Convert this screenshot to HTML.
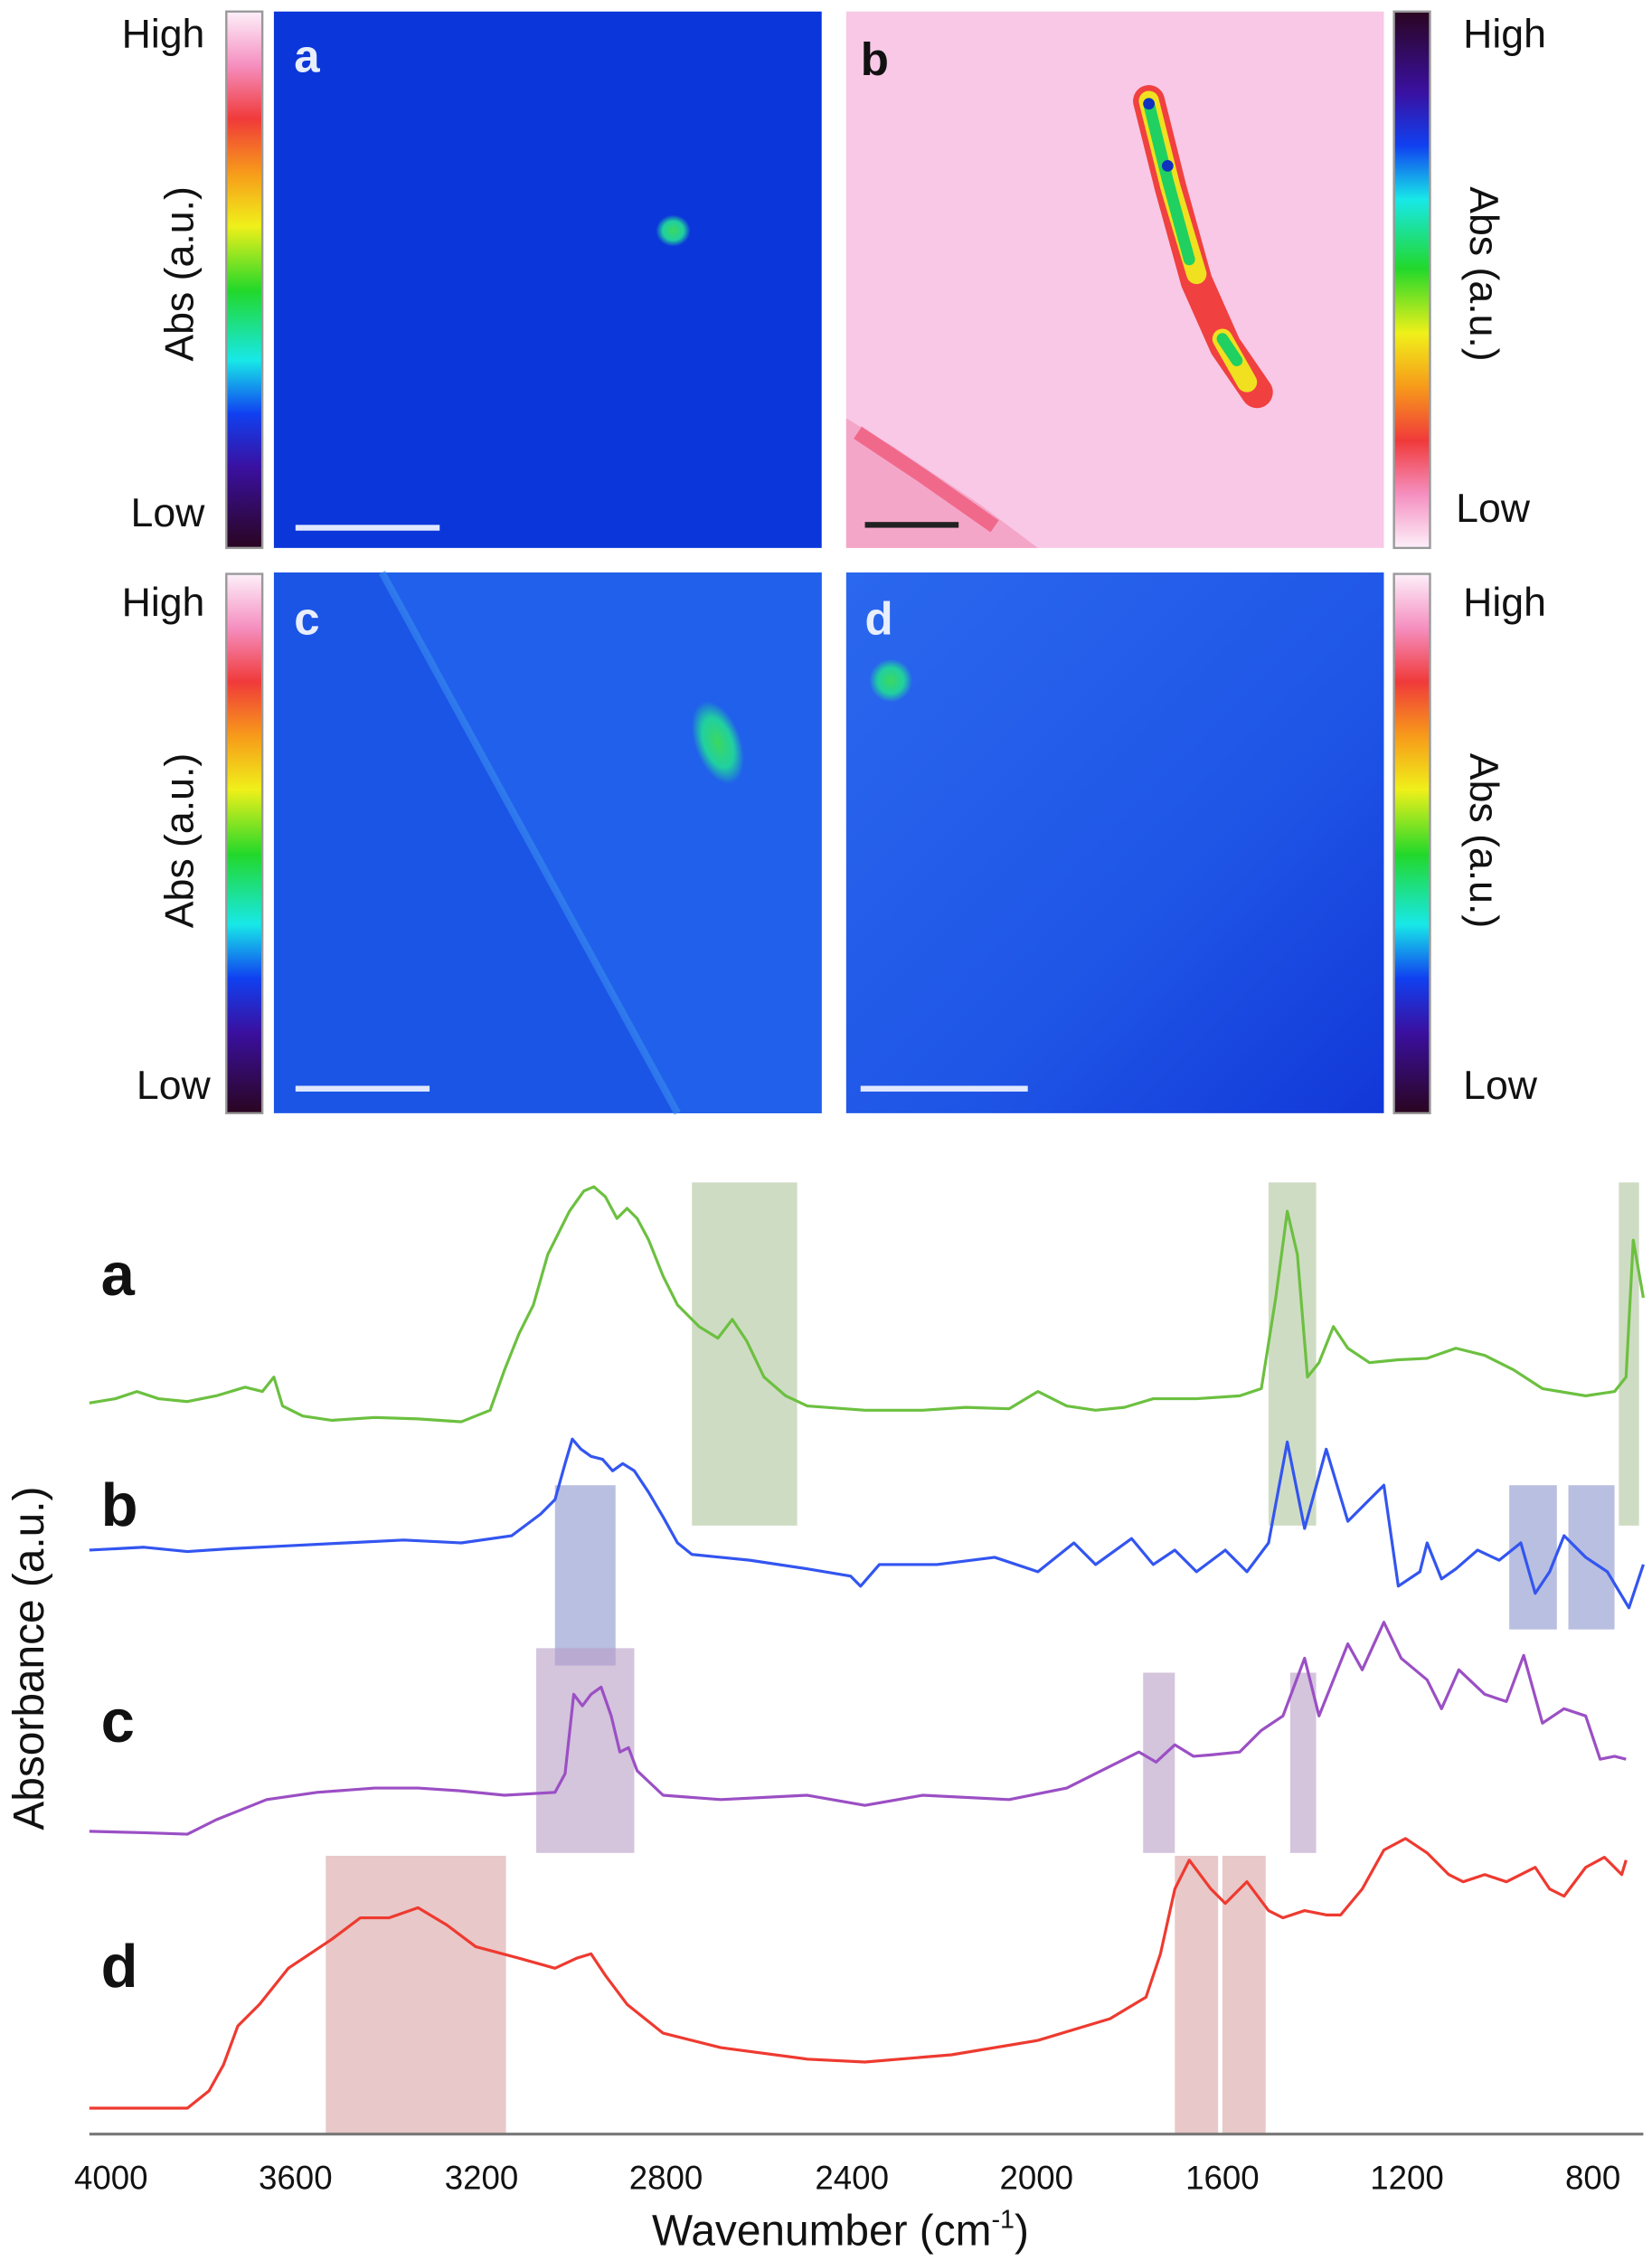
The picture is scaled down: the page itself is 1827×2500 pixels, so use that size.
<!DOCTYPE html>
<html><head><meta charset="utf-8"><style>html,body{margin:0;padding:0;background:#fff}svg{display:block}</style></head><body>
<svg width="1827" height="2500" viewBox="0 0 1146 1568" preserveAspectRatio="none" xmlns="http://www.w3.org/2000/svg" font-family="Liberation Sans, sans-serif">
<defs>
<linearGradient id="cbL" x1="0" y1="0" x2="0" y2="1">
<stop offset="0" stop-color="#fdf0fa"/><stop offset="0.1" stop-color="#f58fc0"/><stop offset="0.2" stop-color="#f03a3a"/><stop offset="0.3" stop-color="#f79a1a"/><stop offset="0.4" stop-color="#f0f01a"/><stop offset="0.52" stop-color="#22d82a"/><stop offset="0.65" stop-color="#18e8e8"/><stop offset="0.75" stop-color="#1040f0"/><stop offset="0.85" stop-color="#3a10a0"/><stop offset="1" stop-color="#2a0520"/></linearGradient>
<linearGradient id="cbR" x1="0" y1="1" x2="0" y2="0">
<stop offset="0" stop-color="#fdf0fa"/><stop offset="0.1" stop-color="#f58fc0"/><stop offset="0.2" stop-color="#f03a3a"/><stop offset="0.3" stop-color="#f79a1a"/><stop offset="0.4" stop-color="#f0f01a"/><stop offset="0.52" stop-color="#22d82a"/><stop offset="0.65" stop-color="#18e8e8"/><stop offset="0.75" stop-color="#1040f0"/><stop offset="0.85" stop-color="#3a10a0"/><stop offset="1" stop-color="#2a0520"/></linearGradient>
<radialGradient id="blob"><stop offset="0" stop-color="#3bd860"/><stop offset="0.6" stop-color="#20d0a0"/><stop offset="1" stop-color="#20d0a0" stop-opacity="0"/></radialGradient>
<linearGradient id="dgr" x1="0" y1="0" x2="1" y2="1"><stop offset="0" stop-color="#2a68ee"/><stop offset="0.6" stop-color="#1f55e6"/><stop offset="1" stop-color="#1238d8"/></linearGradient>
</defs>
<!-- images -->
<rect x="190" y="8" width="380" height="372" fill="#0b36d9"/>
<ellipse cx="467" cy="160" rx="12" ry="11" fill="url(#blob)"/>
<rect x="205" y="364" width="100" height="4" fill="#e0e8ff"/>
<rect x="587" y="8" width="373" height="372" fill="#f8c8e6"/>
<polygon points="587,290 620,310 680,350 720,380 587,380" fill="#f4a6c8"/>
<path d="M595,300 L640,330 L690,365" stroke="#ee5070" stroke-width="10" fill="none" opacity="0.7"/>
<path d="M797,70 L812,130 L830,195 L850,240 L872,272" stroke="#f04040" stroke-width="22" stroke-linecap="round" fill="none"/>
<path d="M797,70 L812,130 L830,190 M848,235 L865,265" stroke="#f0e020" stroke-width="14" stroke-linecap="round" fill="none"/>
<path d="M797,72 L810,125 L825,180 M848,235 L858,250" stroke="#20d060" stroke-width="8" stroke-linecap="round" fill="none"/>
<circle cx="797" cy="72" r="4" fill="#1030c0"/><circle cx="810" cy="115" r="4" fill="#1030c0"/>
<rect x="600" y="362" width="65" height="4" fill="#222"/>
<rect x="190" y="397" width="380" height="375" fill="#1b55e6"/>
<polygon points="265,397 570,397 570,772 470,772" fill="#2060ea"/>
<path d="M265,397 L470,772" stroke="#3a8cf0" stroke-width="5" opacity="0.6"/>
<ellipse cx="498" cy="515" rx="16" ry="30" fill="url(#blob)" transform="rotate(-20 498 515)"/>
<rect x="205" y="753" width="93" height="4" fill="#e0e8ff"/>
<rect x="587" y="397" width="373" height="375" fill="url(#dgr)"/>
<ellipse cx="618" cy="472" rx="15" ry="15" fill="url(#blob)"/>
<rect x="597" y="753" width="116" height="4" fill="#e0e8ff"/>
<!-- colorbars -->
<rect x="157" y="8" width="25" height="372" fill="url(#cbL)" stroke="#999" stroke-width="1.5"/>
<rect x="967" y="8" width="25" height="372" fill="url(#cbR)" stroke="#999" stroke-width="1.5"/>
<rect x="157" y="398" width="25" height="374" fill="url(#cbL)" stroke="#999" stroke-width="1.5"/>
<rect x="967" y="398" width="25" height="374" fill="url(#cbL)" stroke="#999" stroke-width="1.5"/>
<g font-size="28" fill="#111">
<text x="142" y="33" text-anchor="end">High</text><text x="142" y="365" text-anchor="end">Low</text>
<text x="142" y="427" text-anchor="end">High</text><text x="146" y="762" text-anchor="end">Low</text>
<text x="1015" y="33">High</text><text x="1010" y="362">Low</text>
<text x="1015" y="427">High</text><text x="1015" y="762">Low</text>
<text transform="translate(134,190) rotate(-90)" text-anchor="middle">Abs (a.u.)</text>
<text transform="translate(134,583) rotate(-90)" text-anchor="middle">Abs (a.u.)</text>
<text transform="translate(1020,190) rotate(90)" text-anchor="middle">Abs (a.u.)</text>
<text transform="translate(1020,583) rotate(90)" text-anchor="middle">Abs (a.u.)</text>
</g>
<g font-size="32" font-weight="bold">
<text x="204" y="50" fill="#e8eefc">a</text><text x="597" y="52" fill="#111">b</text>
<text x="204" y="440" fill="#e8eefc">c</text><text x="600" y="440" fill="#e8eefc">d</text>
</g>
<!-- highlight boxes -->
<g>
<rect x="480" y="820" width="73" height="238" fill="#a8bf94" opacity="0.55"/>
<rect x="880" y="820" width="33" height="238" fill="#a8bf94" opacity="0.55"/>
<rect x="1123" y="820" width="14" height="238" fill="#a8bf94" opacity="0.55"/>
<rect x="385" y="1030" width="42" height="125" fill="#8894cc" opacity="0.6"/>
<rect x="1047" y="1030" width="33" height="100" fill="#8894cc" opacity="0.6"/>
<rect x="1088" y="1030" width="32" height="100" fill="#8894cc" opacity="0.6"/>
<rect x="372" y="1143" width="68" height="142" fill="#b89cc4" opacity="0.6"/>
<rect x="793" y="1160" width="22" height="125" fill="#b89cc4" opacity="0.6"/>
<rect x="895" y="1160" width="18" height="125" fill="#b89cc4" opacity="0.6"/>
<rect x="226" y="1287" width="125" height="193" fill="#d8a4a4" opacity="0.6"/>
<rect x="815" y="1287" width="30" height="193" fill="#d8a4a4" opacity="0.6"/>
<rect x="848" y="1287" width="30" height="193" fill="#d8a4a4" opacity="0.6"/>
</g>
<g fill="none" stroke-width="2" stroke-linejoin="round">
<polyline stroke="#6cc040" points="62,973 80,970 95,965 110,970 130,972 150,968 170,962 182,965 190,955 196,975 210,982 230,985 260,983 290,984 320,986 340,978 350,950 360,925 370,905 380,870 395,840 405,826 412,823 420,830 428,845 435,838 442,845 450,860 460,885 470,905 485,920 498,928 508,915 518,930 530,955 545,968 560,975 600,978 640,978 670,976 700,977 720,965 740,975 760,978 780,976 800,970 830,970 860,968 875,963 885,900 893,840 900,870 907,955 915,945 925,920 935,935 950,945 970,943 990,942 1010,935 1030,940 1050,950 1070,963 1100,968 1120,965 1128,955 1133,860 1140,900"/>
<polyline stroke="#3355f0" points="62,1075 100,1073 130,1076 160,1074 200,1072 240,1070 280,1068 320,1070 355,1065 375,1050 385,1040 392,1015 397,998 403,1005 410,1010 418,1012 425,1020 432,1015 440,1020 450,1035 460,1052 470,1070 480,1078 500,1080 520,1082 560,1088 590,1093 597,1100 610,1085 650,1085 690,1080 720,1090 745,1070 760,1085 785,1067 800,1085 815,1075 830,1090 850,1075 865,1090 880,1070 893,1000 905,1060 920,1005 935,1055 950,1040 960,1030 970,1100 985,1090 990,1070 1000,1095 1010,1088 1025,1075 1040,1082 1055,1070 1065,1105 1075,1090 1085,1065 1100,1080 1115,1090 1130,1115 1140,1085"/>
<polyline stroke="#9b4fc4" points="62,1270 100,1271 130,1272 150,1262 185,1248 220,1243 260,1240 290,1240 320,1242 350,1245 385,1243 392,1230 398,1175 404,1183 410,1175 417,1170 424,1190 430,1215 436,1212 442,1228 460,1245 500,1248 560,1245 600,1252 640,1245 700,1248 740,1240 760,1230 790,1215 802,1222 815,1210 828,1218 840,1217 860,1215 875,1200 890,1190 905,1150 915,1190 925,1165 935,1140 945,1158 960,1125 972,1150 990,1165 1000,1185 1012,1158 1030,1175 1045,1180 1057,1148 1070,1195 1085,1185 1100,1190 1110,1220 1120,1218 1128,1220"/>
<polyline stroke="#ee3a30" points="62,1462 100,1462 130,1462 145,1450 155,1432 165,1405 180,1390 200,1365 230,1345 250,1330 270,1330 290,1323 310,1335 330,1350 360,1358 385,1365 400,1358 410,1355 420,1370 435,1390 460,1410 500,1420 560,1428 600,1430 660,1425 720,1415 770,1400 795,1385 805,1355 815,1310 825,1290 840,1310 850,1320 865,1305 880,1325 890,1330 905,1325 920,1328 930,1328 945,1310 960,1283 975,1275 990,1285 1005,1300 1015,1305 1030,1300 1045,1305 1065,1295 1075,1310 1085,1315 1100,1295 1113,1288 1125,1300 1128,1290"/>
</g>
<line x1="62" y1="1480" x2="1140" y2="1480" stroke="#777" stroke-width="2"/>
<g font-size="23" fill="#111" text-anchor="middle">
<text x="77" y="1518">4000</text><text x="205" y="1518">3600</text><text x="334" y="1518">3200</text><text x="462" y="1518">2800</text><text x="591" y="1518">2400</text><text x="719" y="1518">2000</text><text x="848" y="1518">1600</text><text x="976" y="1518">1200</text><text x="1105" y="1518">800</text>
<text x="583" y="1557" font-size="30">Wavenumber (cm<tspan font-size="18" dy="-12">-1</tspan><tspan dy="12">)</tspan></text>
<text transform="translate(30,1150) rotate(-90)" font-size="30">Absorbance (a.u.)</text>
</g>
<g font-size="42" font-weight="bold" fill="#111">
<text x="70" y="898">a</text><text x="70" y="1058">b</text><text x="70" y="1208">c</text><text x="70" y="1378">d</text>
</g>
</svg>
</body></html>
